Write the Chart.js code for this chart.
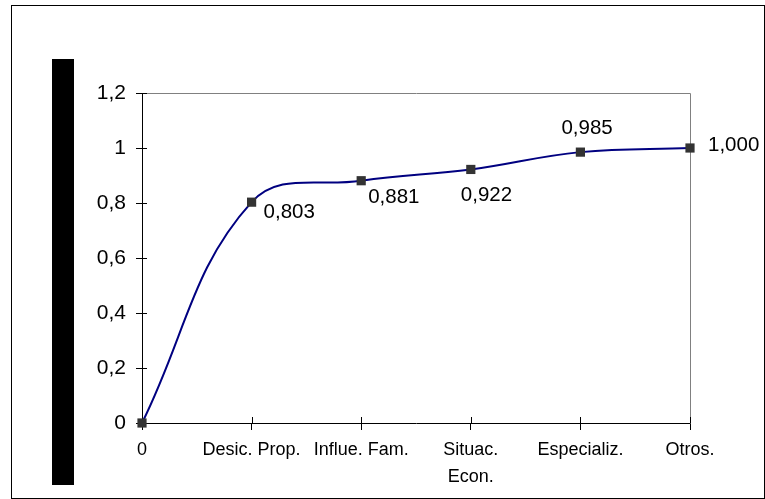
<!DOCTYPE html>
<html>
<head>
<meta charset="utf-8">
<script src="https://cdn.jsdelivr.net/npm/chart.js@4/dist/chart.umd.min.js"></script>
<style>
  body { margin: 0; background: #fff; }
  #wrap { position: relative; width: 765px; height: 499px; overflow: hidden; }
  #frame { position: absolute; left: 11px; top: 5px; width: 752px; height: 492px; border: 1px solid #000; }
  #bar { position: absolute; left: 52px; top: 59px; width: 22px; height: 426px; background: #000; }
  #chart { position: absolute; left: 0; top: 0; }
</style>
</head>
<body>
<div id="wrap">
  <div id="frame"></div>
  <div id="bar"></div>
  <canvas id="chart" width="765" height="499"></canvas>
</div>
<script>
// datos
const categorias = ["0", "Desic. Prop.", "Influe. Fam.", ["Situac.", "Econ."], "Especializ.", "Otros."];
const acumulado = [0, 0.803, 0.881, 0.922, 0.985, 1.000];
const ejeY = { min: 0, max: 1.2, paso: 0.2 };

const coma = (v, d) => v.toFixed(d).replace(".", ",");

// marco gris arriba y derecha + marcas de eje hacia dentro
const marcoPlugin = {
  id: "marco",
  beforeDatasetsDraw(chart) {
    const { ctx, chartArea: a } = chart;
    ctx.save();
    ctx.strokeStyle = "#808080";
    ctx.lineWidth = 1;
    ctx.beginPath();
    ctx.moveTo(Math.round(a.left) + 0.5, Math.round(a.top) + 0.5);
    ctx.lineTo(Math.round(a.right) + 0.5, Math.round(a.top) + 0.5);
    ctx.lineTo(Math.round(a.right) + 0.5, Math.round(a.bottom) + 0.5);
    ctx.stroke();
    // marcas interiores
    ctx.strokeStyle = "#000";
    ctx.beginPath();
    chart.scales.y.ticks.forEach((t, i) => {
      const y = Math.round(chart.scales.y.getPixelForTick(i)) + 0.5;
      ctx.moveTo(a.left, y);
      ctx.lineTo(a.left + 5, y);
    });
    chart.scales.x.ticks.forEach((t, i) => {
      const x = Math.round(chart.scales.x.getPixelForTick(i)) + 0.5;
      ctx.moveTo(x, a.bottom);
      ctx.lineTo(x, a.bottom - 6);
    });
    ctx.stroke();
    ctx.restore();
  }
};

// etiquetas de valores
const desplaz = [null, [12, 10], [7, 17], [-10, 26], [-19, -24], [18, -3]];
const etiquetasPlugin = {
  id: "etiquetas",
  afterDatasetsDraw(chart) {
    const { ctx } = chart;
    const meta = chart.getDatasetMeta(0);
    ctx.save();
    ctx.font = "20.5px 'Liberation Sans', Arial, sans-serif";
    ctx.fillStyle = "#000";
    ctx.textAlign = "left";
    ctx.textBaseline = "middle";
    meta.data.forEach((p, i) => {
      if (!desplaz[i]) return;
      ctx.fillText(coma(acumulado[i], 3), p.x + desplaz[i][0], p.y + desplaz[i][1]);
    });
    ctx.restore();
  }
};

new Chart(document.getElementById("chart"), {
  type: "line",
  data: {
    labels: categorias,
    datasets: [{
      data: acumulado,
      borderColor: "#000080",
      borderWidth: 2,
      tension: 0.4,
      clip: false,
      pointStyle: "rect",
      pointRadius: 6.5,
      pointBackgroundColor: "#333333",
      pointBorderColor: "#333333",
      pointBorderWidth: 0
    }]
  },
  options: {
    responsive: false,
    animation: false,
    layout: { padding: { top: 93, right: 75, bottom: 0, left: 0 } },
    plugins: { legend: { display: false }, tooltip: { enabled: false } },
    scales: {
      x: {
        offset: false,
        grid: { drawOnChartArea: false, tickLength: 7, color: "#000" },
        border: { color: "#000" },
        ticks: {
          color: "#000", padding: 7, maxRotation: 0, autoSkip: false,
          font: { family: "'Liberation Sans', Arial, sans-serif", size: 18, lineHeight: 1.5 }
        },
        afterFit(s) { s.height = 76; }
      },
      y: {
        min: ejeY.min, max: ejeY.max,
        grid: { drawOnChartArea: false, tickLength: 6, color: "#000" },
        border: { color: "#000" },
        ticks: {
          stepSize: ejeY.paso, color: "#000", padding: 10,
          font: { family: "'Liberation Sans', Arial, sans-serif", size: 21 },
          callback: v => String(Number(v.toFixed(1))).replace(".", ",")
        },
        afterFit(s) { s.width = 142; }
      }
    }
  },
  plugins: [marcoPlugin, etiquetasPlugin]
});
</script>
</body>
</html>
